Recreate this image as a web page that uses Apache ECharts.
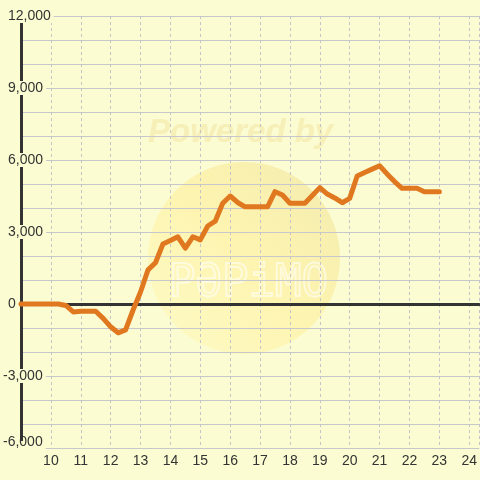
<!DOCTYPE html>
<html>
<head>
<meta charset="utf-8">
<script src="https://cdn.jsdelivr.net/npm/echarts@6/dist/echarts.min.js"></script>
<style>html,body{margin:0;padding:0;background:#fcfcd2;}#c{width:480px;height:480px;}</style>
</head>
<body>
<div id="c"></div>
<script>
// Hours (x) and cumulative values (y)
const hours = [9, 9.25, 9.5, 9.75, 10, 10.25, 10.5, 10.75, 11, 11.25, 11.5, 11.75, 12, 12.25, 12.5, 12.75,
  13, 13.25, 13.5, 13.75, 14, 14.25, 14.5, 14.75, 15, 15.25, 15.5, 15.75, 16, 16.25, 16.5, 16.75,
  17, 17.25, 17.5, 17.75, 18, 18.25, 18.5, 18.75, 19, 19.25, 19.5, 19.75, 20, 20.25, 20.5, 20.75,
  21, 21.25, 21.5, 21.75, 22, 22.25, 22.5, 22.75, 23];
const values = [0, 0, 0, 0, 0, 0, -60, -330, -300, -300, -300, -600, -950, -1200, -1080, -250,
  500, 1420, 1720, 2500, 2650, 2800, 2330, 2800, 2670, 3250, 3450, 4200, 4500, 4230, 4050, 4050,
  4050, 4050, 4680, 4540, 4200, 4200, 4200, 4520, 4850, 4580, 4420, 4220, 4400, 5330, 5480, 5620,
  5760, 5420, 5100, 4820, 4820, 4820, 4680, 4680, 4680];
const xTickLabels = [10, 11, 12, 13, 14, 15, 16, 17, 18, 19, 20, 21, 22, 23, 24];
const yTickLabels = [-6000, -3000, 0, 3000, 6000, 9000, 12000];

const BG = '#fcfcd2';
const chart = echarts.init(document.getElementById('c'));
const xMin = 9, xMax = 24 + 1/3;
function fmtNum(v) { return v.toLocaleString('en-US'); }

chart.setOption({
  backgroundColor: BG,
  animation: false,
  textStyle: { fontFamily: 'Liberation Sans, Arial, sans-serif' },
  graphic: [
    {
      type: 'circle', z: -10, silent: true,
      shape: { cx: 244, cy: 258, r: 96 },
      style: {
        fill: new echarts.graphic.LinearGradient(0, 1, 1, 0, [
          { offset: 0, color: 'rgba(255,248,180,0.45)' },
          { offset: 0.5, color: 'rgba(255,238,150,0.55)' },
          { offset: 1, color: 'rgba(238,228,160,0.7)' }
        ])
      }
    },
    {
      type: 'text', z: -9, silent: true, left: 148, top: 116,
      style: { text: 'Powered by', font: 'italic bold 33px Liberation Sans, Arial, sans-serif', fill: 'rgba(240,228,160,0.55)' }
    },
    {
      type: 'text', z: -9, silent: true, left: 168, top: 262,
      style: { text: 'PƏPiMO', font: '44px DejaVu Sans Mono, monospace', fill: 'rgba(255,255,255,0)', stroke: 'rgba(255,255,255,0.55)', lineWidth: 2 }
    }
  ],
  grid: { left: 20, right: 0, top: 16, bottom: 32, containLabel: false },
  xAxis: [
    {
      type: 'value', min: xMin, max: xMax, interval: 1,
      axisLine: { show: false, onZero: false },
      axisTick: { show: false },
      splitLine: { show: true, lineStyle: { color: '#c4c4c8', type: [3, 3], width: 1 } },
      axisLabel: {
        margin: 6, fontSize: 14, color: '#333', showMaxLabel: false,
        formatter: v => xTickLabels.indexOf(v) >= 0 ? String(v) : ''
      }
    },
    {
      type: 'value', min: xMin, max: xMax, position: 'top',
      axisLine: { show: true, onZero: true, lineStyle: { color: '#333', width: 3 } },
      axisTick: { show: false }, axisLabel: { show: false }, splitLine: { show: false }
    }
  ],
  yAxis: {
    type: 'value', min: -6000, max: 12000, interval: 1000,
    axisLine: { show: true, onZero: false, lineStyle: { color: '#333', width: 3 } },
    axisTick: { show: false },
    splitLine: { show: true, lineStyle: { color: '#c8c8cc', width: 1 } },
    axisLabel: {
      margin: 18, align: 'left', fontSize: 14, color: '#333',
      backgroundColor: BG, lineHeight: 14, padding: [0, 3, 0, 0],
      showMinLabel: true, showMaxLabel: true,
      formatter: v => {
        if (yTickLabels.indexOf(v) < 0) return '';
        const s = fmtNum(v);
        if (v === -6000) return '{b|' + s + '}';
        return v < 0 ? '{n|' + s + '}' : '{p|' + s + '}';
      },
      rich: {
        p: { fontSize: 14, color: '#333', padding: [0, 0, 0, 5], lineHeight: 14 },
        n: { fontSize: 14, color: '#333', lineHeight: 14 },
        b: { fontSize: 14, color: '#333', lineHeight: 14, padding: [0, 0, 12, 0] }
      }
    }
  },
  series: [{
    type: 'line', xAxisIndex: 0, yAxisIndex: 0, z: 5,
    data: hours.map((h, i) => [h, values[i]]),
    showSymbol: false, symbol: 'none',
    lineStyle: { color: '#e07820', width: 5, join: 'round', cap: 'round' }
  }]
});
</script>
</body>
</html>
